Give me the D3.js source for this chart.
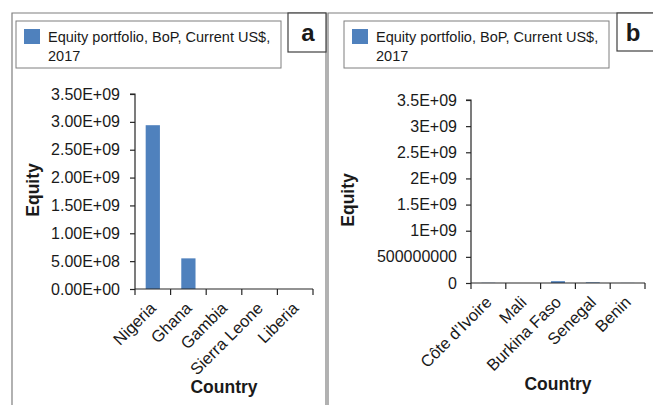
<!DOCTYPE html>
<html>
<head>
<meta charset="utf-8">
<script src="https://cdn.jsdelivr.net/npm/d3@7"></script>
<style>
  html, body { margin: 0; padding: 0; background: #fff; }
  svg { display: block; font-family: "Liberation Sans", Arial, sans-serif; }
</style>
</head>
<body>
<svg id="chart" width="653" height="405"></svg>
<script>
// Equity portfolio, BoP, current US$, 2017
const legendLabel = ["Equity portfolio, BoP, Current US$,", "2017"];

const countriesA = ["Nigeria", "Ghana", "Gambia", "Sierra Leone", "Liberia"];
const equityA = [2.94e9, 5.5e8, 0, 0, 0];

const countriesB = ["Côte d’Ivoire", "Mali", "Burkina Faso", "Senegal", "Benin"];
const equityB = [4e6, 0, 3.5e7, 1.2e7, 2e6];

const yTicks = [0, 5e8, 1e9, 1.5e9, 2e9, 2.5e9, 3e9, 3.5e9];
const yTickLabelsA = ["0.00E+00", "5.00E+08", "1.00E+09", "1.50E+09", "2.00E+09", "2.50E+09", "3.00E+09", "3.50E+09"];
const yTickLabelsB = ["0", "500000000", "1E+09", "1.5E+09", "2E+09", "2.5E+09", "3E+09", "3.5E+09"];

const BAR = "#4f81bd";
const INK = "#1a1a1a";

const svg = d3.select("#chart");

function drawPanel(o) {
  const g = svg.append("g");

  // panel frame (open at the bottom)
  g.append("path")
    .attr("d", `M${o.frame[0]},420V${o.frame[1]}H${o.frame[2]}V420`)
    .attr("fill", "none").attr("stroke", "#7f7f7f").attr("stroke-width", 1.2);

  // panel letter box
  g.append("rect")
    .attr("x", o.tag[0]).attr("y", o.tag[1]).attr("width", o.tag[2]).attr("height", o.tag[3])
    .attr("fill", "#fff").attr("stroke", "#404040").attr("stroke-width", 1.2);
  g.append("text")
    .attr("x", o.tag[0] + o.tagTextDx).attr("y", 41)
    .attr("text-anchor", "middle").attr("font-size", 24).attr("font-weight", "bold")
    .attr("fill", INK).text(o.letter);

  // legend
  g.append("rect")
    .attr("x", o.legend[0]).attr("y", o.legend[1]).attr("width", o.legend[2]).attr("height", o.legend[3])
    .attr("fill", "#fff").attr("stroke", "#7f7f7f").attr("stroke-width", 1);
  g.append("rect")
    .attr("x", o.legend[0] + 8).attr("y", 29).attr("width", 16).attr("height", 15)
    .attr("fill", BAR);
  g.append("text")
    .attr("font-size", 14.5).attr("fill", INK)
    .selectAll("tspan").data(legendLabel).join("tspan")
    .attr("x", o.legend[0] + 32)
    .attr("y", (d, i) => 42 + i * 19)
    .text(d => d);

  const x = d3.scaleBand().domain(o.categories).range(o.xRange).paddingInner(0).paddingOuter(0);
  const y = d3.scaleLinear().domain([0, 3.5e9]).range(o.yRange);

  // bars (Excel gap width 150% -> bar = 0.4 of category)
  const bw = x.bandwidth() * 0.4;
  g.selectAll("rect.bar").data(o.values).join("rect")
    .attr("class", "bar")
    .attr("x", (d, i) => x(o.categories[i]) + (x.bandwidth() - bw) / 2)
    .attr("y", d => y(d))
    .attr("width", bw)
    .attr("height", d => y(0) - y(d))
    .attr("fill", BAR);

  // y axis
  const yAxis = d3.axisLeft(y).tickValues(yTicks)
    .tickFormat((d, i) => o.yLabels[i]).tickSize(5).tickPadding(o.yPad);
  const ya = g.append("g").attr("transform", `translate(${o.xRange[0]},0)`).call(yAxis);
  ya.select(".domain").attr("d", `M-5,${o.yRange[1]}H0V${o.yRange[0]}`);
  ya.selectAll("text").attr("font-size", 16).attr("fill", INK).attr("font-family", null);
  ya.selectAll("line, .domain").attr("stroke", "#262626").attr("stroke-width", 1.2);

  // x axis: tick marks sit between categories
  const xa = g.append("g").attr("transform", `translate(0,${o.yRange[0]})`);
  xa.append("line").attr("x1", o.xRange[0]).attr("x2", o.xRange[1])
    .attr("stroke", "#262626").attr("stroke-width", 1.2);
  const edges = o.categories.map(c => x(c)).concat([o.xRange[1]]);
  xa.selectAll("line.tk").data(edges).join("line").attr("class", "tk")
    .attr("x1", d => d).attr("x2", d => d).attr("y1", 0).attr("y2", 6)
    .attr("stroke", "#262626").attr("stroke-width", 1.2);
  xa.selectAll("text").data(o.categories).join("text")
    .attr("transform", d => `translate(${x(d) + x.bandwidth() / 2 - 4},${12}) rotate(-45)`)
    .attr("text-anchor", "end").attr("dy", "0.71em")
    .attr("font-size", 16.5).attr("fill", INK).text(d => d);

  // axis titles
  g.append("text")
    .attr("x", (o.xRange[0] + o.xRange[1]) / 2).attr("y", o.xTitleY)
    .attr("text-anchor", "middle").attr("font-size", 17.5).attr("font-weight", "bold")
    .attr("fill", INK).text("Country");
  g.append("text")
    .attr("transform", `translate(${o.yTitle[0]},${o.yTitle[1]}) rotate(-90)`)
    .attr("text-anchor", "middle").attr("font-size", 17.5).attr("font-weight", "bold")
    .attr("fill", INK).text("Equity");
}

drawPanel({
  letter: "a",
  frame: [12, 13, 326],
  tag: [288, 13, 38, 39], tagTextDx: 20,
  legend: [16, 21, 265, 47],
  categories: countriesA, values: equityA,
  xRange: [135, 313], yRange: [289, 94],
  yLabels: yTickLabelsA, yPad: 10,
  xTitleY: 393, yTitle: [39, 190]
});

drawPanel({
  letter: "b",
  frame: [328, 13, 700],
  tag: [617, 13, 50, 38], tagTextDx: 16,
  legend: [344, 21, 265, 47],
  categories: countriesB, values: equityB,
  xRange: [471, 645], yRange: [283, 100],
  yLabels: yTickLabelsB, yPad: 9,
  xTitleY: 390, yTitle: [354, 200]
});
</script>
</body>
</html>
